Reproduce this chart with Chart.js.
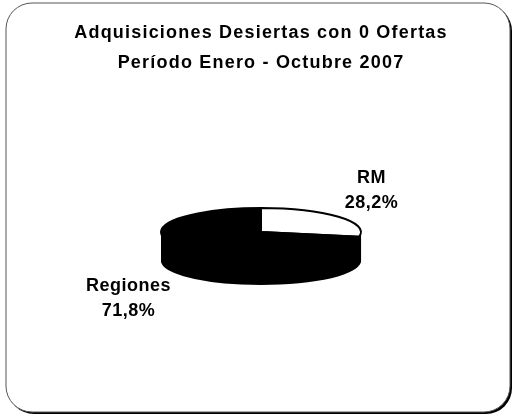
<!DOCTYPE html>
<html><head><meta charset="utf-8">
<script src="https://cdn.jsdelivr.net/npm/chart.js@4"></script>
<style>html,body{margin:0;padding:0;background:#fff;overflow:hidden}</style>
</head><body>
<canvas id="c" width="513" height="417"></canvas>
<script>
const categories = ['RM', 'Regiones'];
const values = [28.2, 71.8];
const valueLabels = ['28,2%', '71,8%'];
const sliceColors = ['#ffffff', '#000000'];
const titleLines = ['Adquisiciones Desiertas con 0 Ofertas', 'Período Enero - Octubre 2007'];

const frame = {
  id: 'frame',
  beforeDraw(chart, args, o) {
    const ctx = chart.ctx;
    ctx.save();
    ctx.fillStyle = '#fff';
    ctx.fillRect(0, 0, chart.width, chart.height);
    const x = o.left, y = o.top, w = chart.width - o.left - o.right, h = chart.height - o.top - o.bottom, r = o.radius;
    ctx.beginPath();
    ctx.roundRect(x + 2, y + 2, w, h, r);
    ctx.fillStyle = '#000';
    ctx.fill();
    ctx.beginPath();
    ctx.roundRect(x, y, w, h, r);
    ctx.fillStyle = '#fff';
    ctx.fill();
    ctx.lineWidth = 1;
    ctx.strokeStyle = '#555';
    ctx.stroke();
    ctx.restore();
    ctx.letterSpacing = o.letterSpacing;
  },
  afterDraw(chart) { chart.ctx.letterSpacing = '0px'; }
};

const pie3d = {
  id: 'pie3d',
  beforeDatasetsDraw(chart, args, o) {
    const meta = chart.getDatasetMeta(0);
    const ctx = chart.ctx;
    const cx = meta.data[0].x, cy = meta.data[0].y;
    const base = ctx.getTransform();
    for (let d = o.depth; d > 0; d--) {
      ctx.save();
      ctx.translate(cx, cy + d); ctx.scale(1, o.squash); ctx.translate(-cx, -cy);
      meta.data.forEach(el => {
        const opt = el.options;
        el.options = Object.assign({}, opt, { backgroundColor: o.sideColor, borderColor: o.sideColor, borderWidth: 0 });
        el.draw(ctx);
        el.options = opt;
      });
      ctx.restore();
    }
    ctx.save();
    ctx.translate(cx, cy); ctx.scale(1, o.squash); ctx.translate(-cx, -cy);
    const orig = CanvasRenderingContext2D.prototype.stroke;
    ctx.stroke = function () { this.save(); this.setTransform(base); orig.apply(this, arguments); this.restore(); };
  },
  afterDatasetsDraw(chart, args, o) {
    const ctx = chart.ctx;
    delete ctx.stroke;
    ctx.restore();
    const meta = chart.getDatasetMeta(0);
    ctx.save();
    ctx.fillStyle = '#000';
    ctx.font = o.font;
    ctx.letterSpacing = o.letterSpacing;
    ctx.textAlign = 'center';
    ctx.textBaseline = 'middle';
    meta.data.forEach((el, i) => {
      const mid = (el.startAngle + el.endAngle) / 2;
      const ex = el.x + el.outerRadius * Math.cos(mid);
      const ey = el.y + el.outerRadius * o.squash * Math.sin(mid);
      const lx = ex + o.offsets[i][0], ly = ey + o.offsets[i][1];
      ctx.fillText(chart.data.labels[i], lx, ly - o.lineGap / 2);
      ctx.fillText(valueLabels[i], lx, ly + o.lineGap / 2);
    });
    ctx.restore();
  }
};

new Chart(document.getElementById('c'), {
  type: 'pie',
  data: {
    labels: categories,
    datasets: [{ data: values, backgroundColor: sliceColors, borderColor: '#000', borderWidth: 2, radius: 100 }]
  },
  options: {
    responsive: false,
    animation: false,
    events: [],
    layout: { padding: { left: 9, right: 0, top: 0, bottom: 31 } },
    plugins: {
      legend: { display: false },
      tooltip: { enabled: false },
      title: {
        display: true,
        text: titleLines,
        color: '#000',
        font: { family: 'Liberation Sans', size: 18, weight: 'bold', lineHeight: '30px' },
        padding: { top: 18, bottom: 0 }
      },
      frame: { left: 6, top: 3, right: 3, bottom: 5, radius: 26, letterSpacing: '1.2px' },
      pie3d: { depth: 29, squash: 0.24, sideColor: '#000', font: 'bold 18px "Liberation Sans"', letterSpacing: '0.5px', lineGap: 25, offsets: [[33, -26], [-55, 51]] }
    }
  },
  plugins: [frame, pie3d]
});
</script>
</body></html>
